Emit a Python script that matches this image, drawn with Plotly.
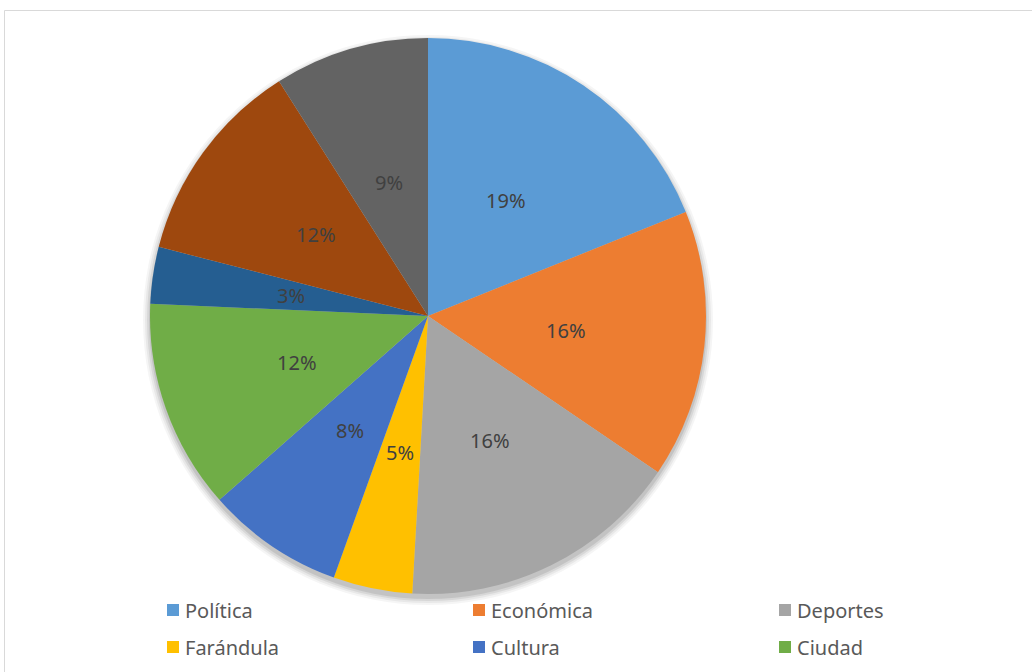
import math
import plotly.graph_objects as go

labels = ["Política", "Económica", "Deportes", "Farándula", "Cultura", "Ciudad",
          "Internacional", "Judicial", "Otros"]
values = [18.9, 15.6, 16.4, 4.6, 8.0, 12.2, 3.3, 12.0, 9.0]
colors = ["#5B9BD5", "#ED7D31", "#A5A5A5", "#FFC000", "#4472C4", "#70AD47",
          "#255E91", "#9E480E", "#636363"]
legend_labels = labels[:6]

W, H = 1032, 672
cx, cy, r = 428, 316, 278

fig = go.Figure()
fig.add_trace(go.Pie(
    labels=labels, values=values, sort=False, direction="clockwise", rotation=0,
    marker=dict(colors=colors, line=dict(width=0)),
    textinfo="none",
    domain=dict(x=[(cx - r) / W, (cx + r) / W], y=[(H - cy - r) / H, (H - cy + r) / H]),
    showlegend=False, hoverinfo="label+percent",
))

shapes = []
# soft shadow behind pie
for dr, op in [(7, 0.04), (5, 0.05), (3, 0.07), (1, 0.09)]:
    rr = r + dr
    shapes.append(dict(type="circle", xref="paper", yref="paper", layer="below",
                       x0=(cx - rr) / W, x1=(cx + rr) / W,
                       y0=(H - (cy + 4) - rr) / H, y1=(H - (cy + 4) + rr) / H,
                       fillcolor="rgba(0,0,0,%s)" % op, line=dict(width=0)))
# chart frame
shapes.append(dict(type="rect", xref="paper", yref="paper", layer="below",
                   x0=4.5 / W, x1=1.02, y0=-0.02, y1=(H - 10.5) / H,
                   line=dict(color="#D9D9D9", width=1), fillcolor="rgba(0,0,0,0)"))

annotations = []
# percentage labels at half radius along each slice's mid-angle
total = sum(values)
cum = 0
for v in values:
    mid = (cum + v / 2) / total * 2 * math.pi
    cum += v
    px = cx + 0.5 * r * math.sin(mid)
    py = cy - 0.5 * r * math.cos(mid)
    annotations.append(dict(text="%d%%" % int(v / total * 100 + 0.5), xref="paper", yref="paper",
                            x=px / W, y=(H - py) / H, xanchor="center", yanchor="middle",
                            showarrow=False,
                            font=dict(family="Noto Sans", size=20, color="#404040")))

col_x = [167, 473, 779]
row_y = [610, 647]
for i, lab in enumerate(legend_labels):
    x = col_x[i % 3]
    y = row_y[i // 3]
    shapes.append(dict(type="rect", xref="paper", yref="paper",
                       x0=x / W, x1=(x + 12) / W, y0=(H - y - 6) / H, y1=(H - y + 6) / H,
                       fillcolor=colors[i], line=dict(width=0)))
    annotations.append(dict(text=lab, xref="paper", yref="paper", x=(x + 16) / W,
                            y=(H - y) / H, xanchor="left", yanchor="middle",
                            showarrow=False,
                            font=dict(family="Noto Sans", size=20, color="#595959")))

fig.update_layout(
    width=W, height=H, margin=dict(l=0, r=0, t=0, b=0),
    paper_bgcolor="white", plot_bgcolor="white",
    shapes=shapes, annotations=annotations,
)
fig.write_html("out.html")
